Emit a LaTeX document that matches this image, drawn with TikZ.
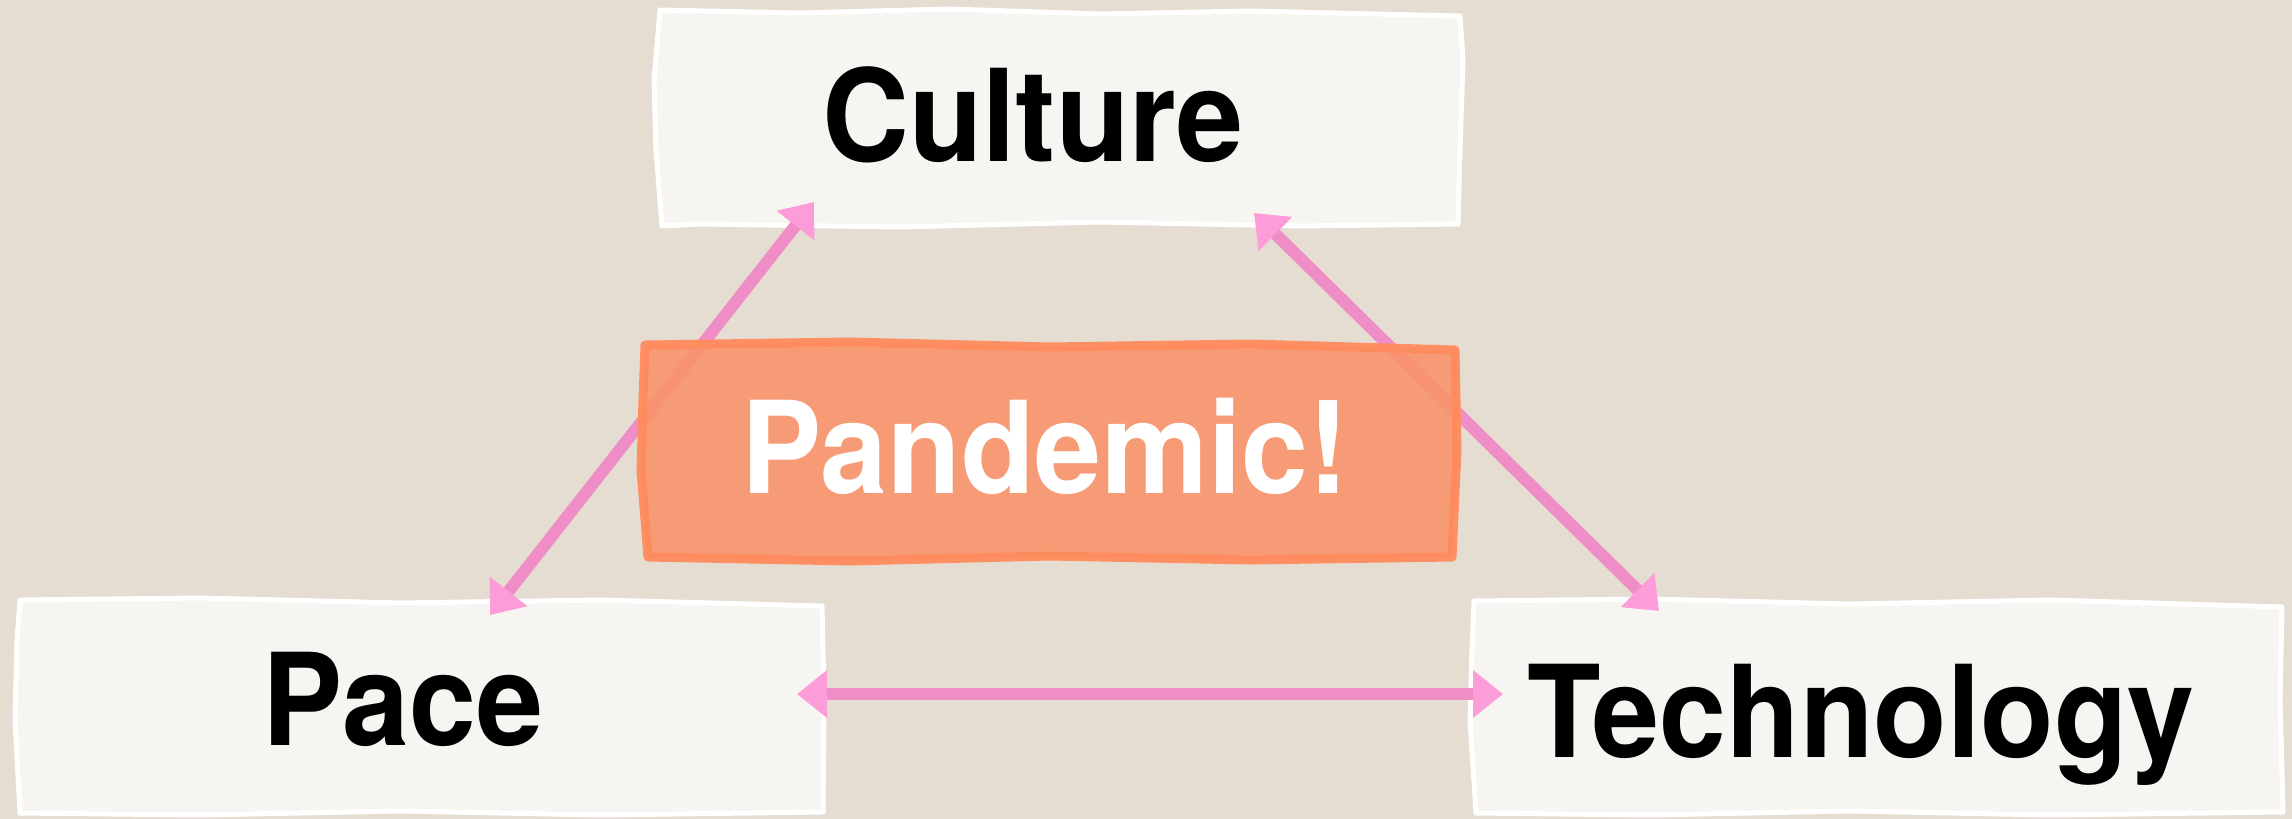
\documentclass[tikz,border=0pt]{standalone}
\usepackage{fontspec}
\setmainfont{TeX Gyre Heros}[FakeStretch=0.94]
\usetikzlibrary{arrows.meta}
\definecolor{bg}{HTML}{E5DCD2}
\definecolor{paper}{HTML}{F7F5F2}
\definecolor{orangefill}{HTML}{F8946C}
\definecolor{orangeedge}{HTML}{FF8B5C}
\definecolor{pinkline}{HTML}{EF8EC6}
\definecolor{pinkhead}{HTML}{FC9CD8}
\tikzset{
  paperbox/.style={fill=paper, draw=white, line width=5pt, line join=round},
  pandbox/.style={fill=orangefill, draw=orangeedge, line width=9pt, line join=round, fill opacity=0.9, draw opacity=0.95},
  wordtxt/.style={font=\fontsize{128}{150}\selectfont\bfseries, inner sep=0pt, anchor=base},
  linkarrow/.style={draw=pinkline, line width=12pt,
    {Triangle[length=30pt,width=46pt,fill=pinkhead,color=pinkhead]}-{Triangle[length=30pt,width=46pt,fill=pinkhead,color=pinkhead]}}
}
\begin{document}
\begin{tikzpicture}[x=1pt,y=-1pt]
\fill[bg] (0,0) rectangle (2292,819);
\useasboundingbox (0,0) rectangle (2292,819);
% paper boxes
\draw[paperbox] (660,10) -- (800,13) -- (950,9) -- (1100,14) -- (1250,11) -- (1460,16) -- (1463,60) -- (1460,150) -- (1458,224) -- (1300,226) -- (1100,222) -- (900,227) -- (700,224) -- (662,226) -- (656,150) -- (654,80) -- cycle;
\draw[paperbox] (20,600) -- (200,598) -- (400,603) -- (600,600) -- (822,606) -- (824,700) -- (823,812) -- (600,815) -- (400,811) -- (200,815) -- (20,813) -- (15,720) -- (17,640) -- cycle;
\draw[paperbox] (1474,601) -- (1650,599) -- (1850,604) -- (2050,600) -- (2282,607) -- (2280,700) -- (2283,812) -- (2050,815) -- (1850,811) -- (1650,815) -- (1476,813) -- (1470,720) -- (1472,650) -- cycle;
% text nodes
\node[wordtxt] (culture) at (1033,161) {Culture};
\node[wordtxt] (pace) at (403,745) {Pace};
\node[wordtxt] (tech) at (1861,757) {Technology};
% arrow ends
\coordinate (cultL) at (814,202);
\coordinate (paceT) at (490,615);
\coordinate (cultR) at (1254,213);
\coordinate (techT) at (1659,611);
\coordinate (paceR) at (797,694);
\coordinate (techL) at (1503,694);
\draw[linkarrow] (cultL) -- (paceT);
\draw[linkarrow] (cultR) -- (techT);
\draw[linkarrow] (paceR) -- (techL);
% pandemic
\draw[pandbox] (645,345) -- (850,342) -- (1050,347) -- (1250,344) -- (1455,350) -- (1457,450) -- (1452,557) -- (1250,560) -- (1050,556) -- (850,561) -- (648,557) -- (641,470) -- (643,400) -- cycle;
\node[wordtxt, text=white] (pandemic) at (1045,493) {Pandemic!};
\end{tikzpicture}
\end{document}
